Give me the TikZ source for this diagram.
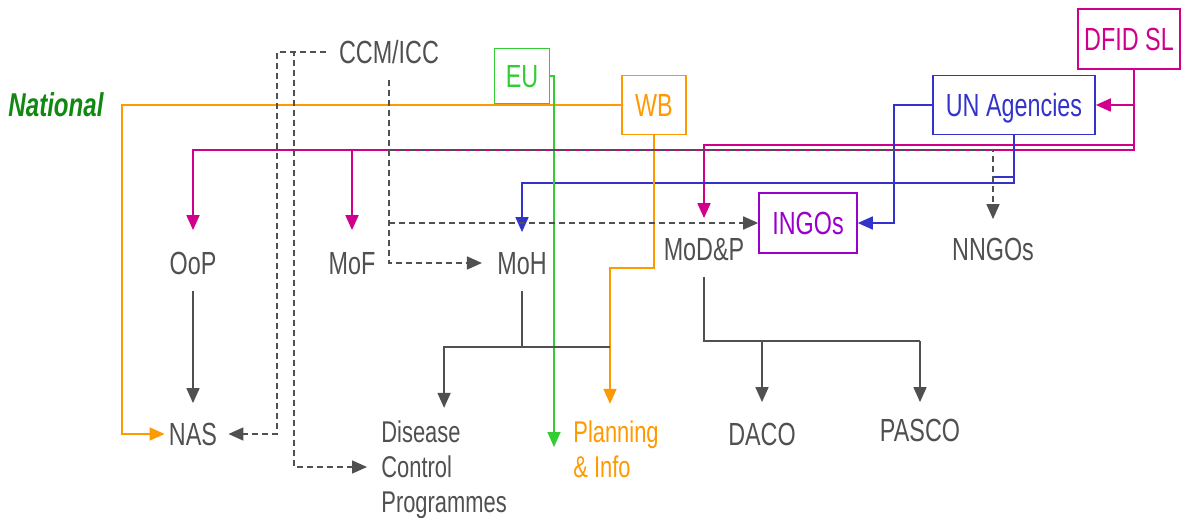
\documentclass[tikz,border=0pt]{standalone}
\usepackage{fontspec}
\setmainfont[FakeStretch=0.73]{Liberation Sans}
\usetikzlibrary{arrows.meta}
\definecolor{dgray}{HTML}{505050}
\definecolor{dfmag}{HTML}{D1008C}
\definecolor{unblue}{HTML}{3333CC}
\definecolor{wborange}{HTML}{FF9900}
\definecolor{eugreen}{HTML}{33CC33}
\definecolor{ngopurple}{HTML}{9900CC}
\definecolor{natgreen}{HTML}{118811}
\tikzset{
  otext/.style={text=dgray,inner sep=2pt,text height=11.5pt,text depth=0pt},
  obox/.style={draw,line width=0.8pt,inner sep=2pt,text height=11.5pt,text depth=0pt},
  olow/.style={anchor=base west,align=left,inner sep=2pt,font=\fontsize{15pt}{17.5pt}\selectfont},
  gline/.style={draw=dgray,line width=0.8pt},
  garr/.style={gline,-{Triangle[length=7.5pt,width=6.5pt]}},
  gdash/.style={garr,dash pattern=on 3pt off 2pt},
  dfarr/.style={draw=dfmag,line width=0.9pt,-{Triangle[length=7.5pt,width=6.5pt]}},
  unarr/.style={draw=unblue,line width=0.8pt,-{Triangle[length=7.5pt,width=6.5pt]}},
  unline/.style={draw=unblue,line width=0.8pt},
  wbarr/.style={draw=wborange,line width=0.8pt,-{Triangle[length=7.5pt,width=6.5pt]}},
  euarr/.style={draw=eugreen,line width=0.8pt,-{Triangle[length=7.5pt,width=6.5pt]}}
}
\begin{document}
\begin{tikzpicture}[x=0.5pt,y=-0.5pt,font=\fontsize{16pt}{18pt}\selectfont]
  \useasboundingbox (0,0) rectangle (1182,518);
  % funders
  \node[text=natgreen,font=\fontsize{16.5pt}{18pt}\selectfont\bfseries\itshape,inner sep=2pt,text height=11.5pt,text depth=0pt] (national) at (56,105) {National};
  \node[otext] (ccm) at (389,52) {CCM/ICC};
  \node[obox,draw=eugreen,text=eugreen,minimum width=27.5pt,minimum height=27.5pt] (eu) at (522,76) {EU};
  \node[obox,draw=wborange,text=wborange,minimum width=32pt,minimum height=29.5pt] (wb) at (654,105) {WB};
  \node[obox,draw=dfmag,text=dfmag,minimum width=51pt,minimum height=30pt] (dfid) at (1129,39) {DFID SL};
  \node[obox,draw=unblue,text=unblue,minimum width=81pt,minimum height=29.5pt] (un) at (1014,105) {UN Agencies};
  \node[obox,draw=ngopurple,text=ngopurple,minimum width=49pt,minimum height=30pt] (ingos) at (808,223) {INGOs};
  % ministries
  \node[otext] (oop) at (193,263) {OoP};
  \node[otext] (mof) at (352,263) {MoF};
  \node[otext] (moh) at (522,263) {MoH};
  \node[otext] (modp) at (704,249) {MoD\&P};
  \node[otext] (nngos) at (993,249) {NNGOs};
  % implementers (base = last line)
  \node[otext] (nas) at (193,434) {NAS};
  \node[olow,text=dgray] (disease) at (377,512) {Disease\\Control\\Programmes};
  \node[olow,text=wborange] (planning) at (569,477) {Planning\\\& Info};
  \node[otext] (daco) at (762,434) {DACO};
  \node[otext] (pasco) at (920,430) {PASCO};

  % DFID
  \draw[dfarr,shorten >=8.5pt] ([xshift=2.5pt]dfid.south) |- (193,150) -- (oop.north);
  \draw[dfarr,shorten >=8.5pt] (352,150) -- (mof.north);
  \draw[dfarr,shorten >=7.5pt] (1134,145) -| (modp.north);
  \draw[dfarr] (1134,105) -- (un.east);
  % UN
  \draw[unarr] (un.west) -- ++(-38,0) |- (ingos.east);
  \draw[unarr,shorten >=7.5pt] (un.south) -- (1014,183) -| (moh.north);
  \draw[unline] (1014,177) -| (993,183);
  % WB and EU
  \draw[wbarr] (wb.west) -| (122,434) -- (nas.west);
  \draw[wbarr,shorten >=6pt] (wb.south) |- (610,268) -- (610,268 |- planning.north);
  \draw[euarr] (eu.east) -| (554,447);
  % CCM/ICC
  \draw[gdash,shorten <=4.5pt,shorten >=3.5pt] (ccm.west) -| (277,434) -- (nas.east);
  \draw[gdash,shorten <=4.5pt,shorten >=5pt] (ccm.west) -| (294,467) -- (294,467 -| disease.west);
  \draw[gdash,shorten <=6pt,shorten >=5.5pt] (ccm.south) |- (moh.west);
  \draw[gdash] (389,223) -- (ingos.west);
  \draw[gdash,shorten >=7pt] (389,150) -| (nngos.north);
  % line management
  \draw[garr,shorten <=6pt,shorten >=7.5pt] (oop) -- (nas);
  \draw[gline,shorten <=6pt] (moh.south) -- (522,347);
  \draw[garr,shorten >=4pt] (610,347) -| (disease.north);
  \draw[gline,shorten <=6pt] (modp.south) -- (704,341) -- (920,341);
  \draw[garr,shorten >=8pt] (762,341) -- (daco.north);
  \draw[garr,shorten >=6pt] (920,341) -- (pasco.north);
\end{tikzpicture}
\end{document}
